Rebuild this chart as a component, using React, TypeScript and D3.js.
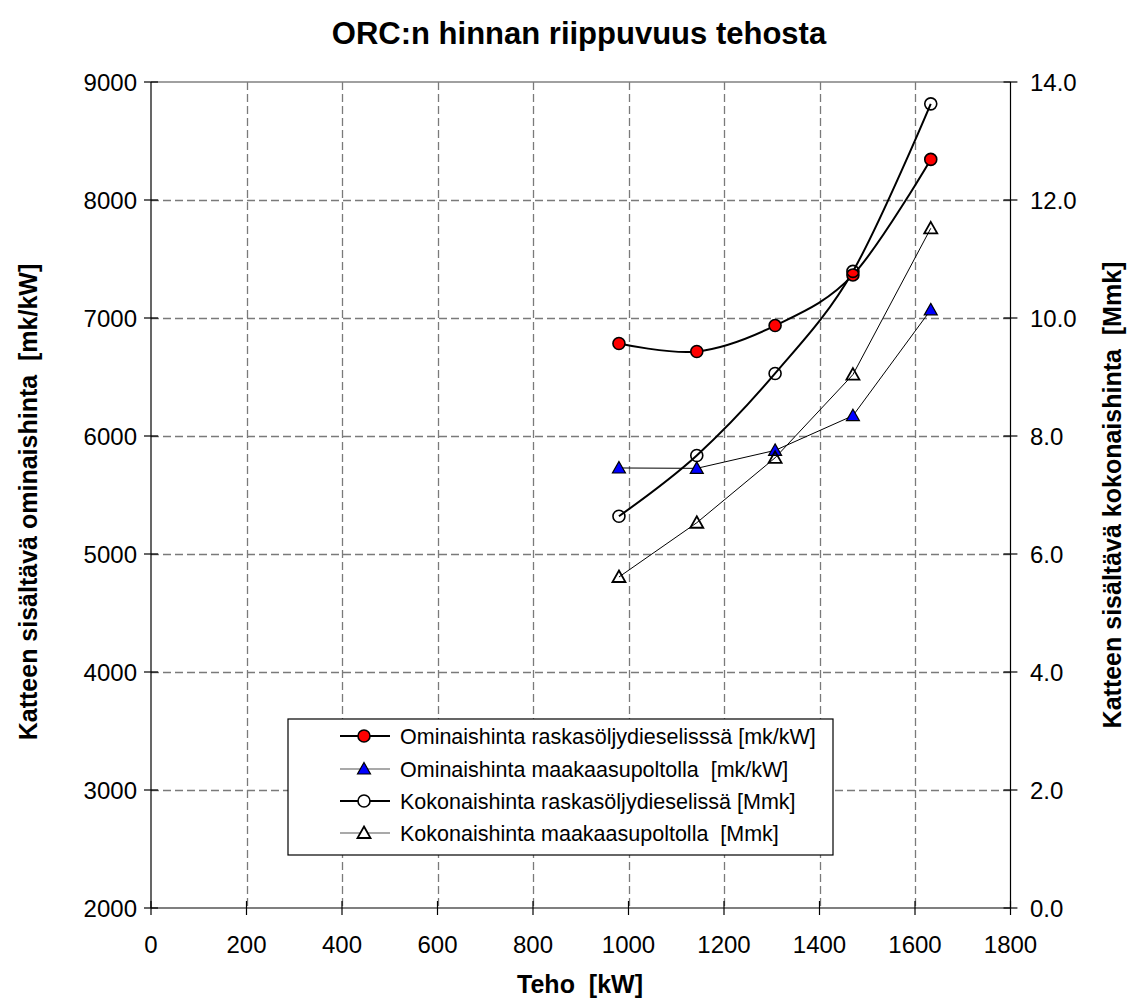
import React from "react";
import * as d3 from "d3";

// Output power of the ORC unit [kW]
const powerKW = [980, 1143, 1307, 1470, 1633];
// Specific price, heavy-fuel-oil diesel [mk/kW] (left axis)
const specificDiesel = [6784, 6716, 6936, 7365, 8344];
// Specific price, natural-gas burner [mk/kW] (left axis)
const specificGas = [5729, 5726, 5878, 6172, 7069];
// Total price, heavy-fuel-oil diesel [Mmk] (right axis)
const totalDiesel = [6.64, 7.67, 9.06, 10.79, 13.63];
// Total price, natural-gas burner [Mmk] (right axis)
const totalGas = [5.61, 6.53, 7.63, 9.04, 11.52];

const xTicks = [0, 200, 400, 600, 800, 1000, 1200, 1400, 1600, 1800];
const leftTicks = [2000, 3000, 4000, 5000, 6000, 7000, 8000, 9000];
const rightTicks = [0, 2, 4, 6, 8, 10, 12, 14];

const legendLabels = [
  "Ominaishinta raskasöljydieselisssä [mk/kW]",
  "Ominaishinta maakaasupoltolla  [mk/kW]",
  "Kokonaishinta raskasöljydieselissä [Mmk]",
  "Kokonaishinta maakaasupoltolla  [Mmk]",
];

const W = 1128;
const H = 1004;
const left = 151;
const right = 1010.5;
const top = 82;
const bottom = 908;
const FONT = "'Liberation Sans', Arial, sans-serif";

const x = d3.scaleLinear().domain([0, 1800]).range([left, right]);
const yL = d3.scaleLinear().domain([2000, 9000]).range([bottom, top]);
const yR = d3.scaleLinear().domain([0, 14]).range([bottom, top]);

const smooth = d3.line<[number, number]>().curve(d3.curveCardinal.tension(0));
const straight = d3.line<[number, number]>();

const tri = "M0,-6.5L6.5,5L-6.5,5Z";
const crisp = (v: number) => Math.round(v) + 0.5;

function Circle({ cx, cy, fill }: { cx: number; cy: number; fill: string }) {
  return <circle cx={cx} cy={cy} r={6} fill={fill} stroke="#000" strokeWidth={1.6} />;
}

function Tri({ cx, cy, fill, sw }: { cx: number; cy: number; fill: string; sw: number }) {
  return (
    <path d={tri} transform={`translate(${cx},${cy})`} fill={fill} stroke="#000" strokeWidth={sw} strokeLinejoin="miter" />
  );
}

export default function App() {
  const p1 = powerKW.map((p, i) => [x(p), yL(specificDiesel[i])] as [number, number]);
  const p2 = powerKW.map((p, i) => [x(p), yL(specificGas[i])] as [number, number]);
  const p3 = powerKW.map((p, i) => [x(p), yR(totalDiesel[i])] as [number, number]);
  const p4 = powerKW.map((p, i) => [x(p), yR(totalGas[i])] as [number, number]);

  const legendY = [736, 769, 801, 833];

  return (
    <svg
      width={W}
      height={H}
      style={{ position: "absolute", left: 0, top: 0, background: "#fff" }}
      fontFamily={FONT}
    >
      <rect x={0} y={0} width={W} height={H} fill="#fff" />
      {/* grid */}
      <g stroke="#7a7a7a" strokeWidth={1.3} strokeDasharray="8,4">
        {xTicks.filter((t) => t > 0 && t < 1800).map((t) => (
          <line key={"gx" + t} x1={crisp(x(t))} x2={crisp(x(t))} y1={top} y2={bottom} />
        ))}
        {leftTicks.filter((t) => t > 2000 && t < 9000).map((t) => (
          <line key={"gy" + t} x1={left} x2={right} y1={crisp(yL(t))} y2={crisp(yL(t))} />
        ))}
      </g>
      <line x1={left} x2={right} y1={top} y2={top} stroke="#808080" strokeWidth={1.3} />

      {/* axes */}
      <g stroke="#000" strokeWidth={1.2}>
        <line x1={left} x2={left} y1={top} y2={bottom} />
        <line x1={right} x2={right} y1={top} y2={bottom} />
        <line x1={left} x2={right} y1={bottom} y2={bottom} />
        {xTicks.map((t) => (
          <line key={"tx" + t} x1={x(t)} x2={x(t)} y1={bottom - 7} y2={bottom + 7} />
        ))}
        {leftTicks.map((t) => (
          <line key={"tl" + t} x1={left - 7} x2={left + 7} y1={yL(t)} y2={yL(t)} />
        ))}
        {rightTicks.map((t) => (
          <line key={"tr" + t} x1={right - 7} x2={right + 7} y1={yR(t)} y2={yR(t)} />
        ))}
      </g>

      <g fontSize={24} fill="#000">
        {xTicks.map((t) => (
          <text key={"lx" + t} x={x(t)} y={953} textAnchor="middle">
            {t}
          </text>
        ))}
        {leftTicks.map((t) => (
          <text key={"ll" + t} x={137} y={yL(t) + 8.5} textAnchor="end">
            {t}
          </text>
        ))}
        {rightTicks.map((t) => (
          <text key={"lr" + t} x={1030} y={yR(t) + 8.5} textAnchor="start">
            {t.toFixed(1)}
          </text>
        ))}
      </g>

      {/* titles */}
      <text x={579} y={44} textAnchor="middle" fontSize={31} fontWeight="bold">
        ORC:n hinnan riippuvuus tehosta
      </text>
      <text x={580} y={993} textAnchor="middle" fontSize={25} fontWeight="bold" xmlSpace="preserve">
        Teho  [kW]
      </text>
      <text
        transform={`translate(37,${(top + bottom) / 2 + 7}) rotate(-90)`}
        textAnchor="middle"
        fontSize={25}
        fontWeight="bold"
        xmlSpace="preserve"
      >
        Katteen sisältävä ominaishinta  [mk/kW]
      </text>
      <text
        transform={`translate(1121,${(top + bottom) / 2}) rotate(-90)`}
        textAnchor="middle"
        fontSize={25}
        fontWeight="bold"
        xmlSpace="preserve"
      >
        Katteen sisältävä kokonaishinta  [Mmk]
      </text>

      {/* series lines */}
      <path d={smooth(p1) ?? ""} fill="none" stroke="#000" strokeWidth={2} />
      <path d={straight(p2) ?? ""} fill="none" stroke="#000" strokeWidth={1} />
      <path d={smooth(p3) ?? ""} fill="none" stroke="#000" strokeWidth={2} />
      <path d={straight(p4) ?? ""} fill="none" stroke="#000" strokeWidth={1} />

      {/* markers */}
      {p1.map(([cx, cy], i) => (
        <Circle key={"m1" + i} cx={cx} cy={cy} fill="#ff0000" />
      ))}
      {p2.map(([cx, cy], i) => (
        <Tri key={"m2" + i} cx={cx} cy={cy} fill="#0000ff" sw={1.2} />
      ))}
      {p3.map(([cx, cy], i) => (
        <Circle key={"m3" + i} cx={cx} cy={cy} fill="none" />
      ))}
      {p4.map(([cx, cy], i) => (
        <Tri key={"m4" + i} cx={cx} cy={cy} fill="none" sw={1.8} />
      ))}

      {/* legend */}
      <rect x={288} y={719} width={545} height={136} fill="#fff" stroke="#000" strokeWidth={1.2} />
      {legendLabels.map((label, i) => {
        const ly = legendY[i];
        const thick = i === 0 || i === 2;
        return (
          <g key={"lg" + i}>
            <line x1={340} x2={390} y1={ly} y2={ly} stroke={thick ? "#000" : "#555"} strokeWidth={thick ? 2 : 1.2} />
            {i === 0 && <Circle cx={364} cy={ly} fill="#ff0000" />}
            {i === 1 && <Tri cx={364} cy={ly} fill="#0000ff" sw={1.2} />}
            {i === 2 && <Circle cx={364} cy={ly} fill="#fff" />}
            {i === 3 && <Tri cx={364} cy={ly} fill="#fff" sw={1.8} />}
            <text x={400} y={ly + 7.5} fontSize={21.5} xmlSpace="preserve">
              {label}
            </text>
          </g>
        );
      })}
    </svg>
  );
}
